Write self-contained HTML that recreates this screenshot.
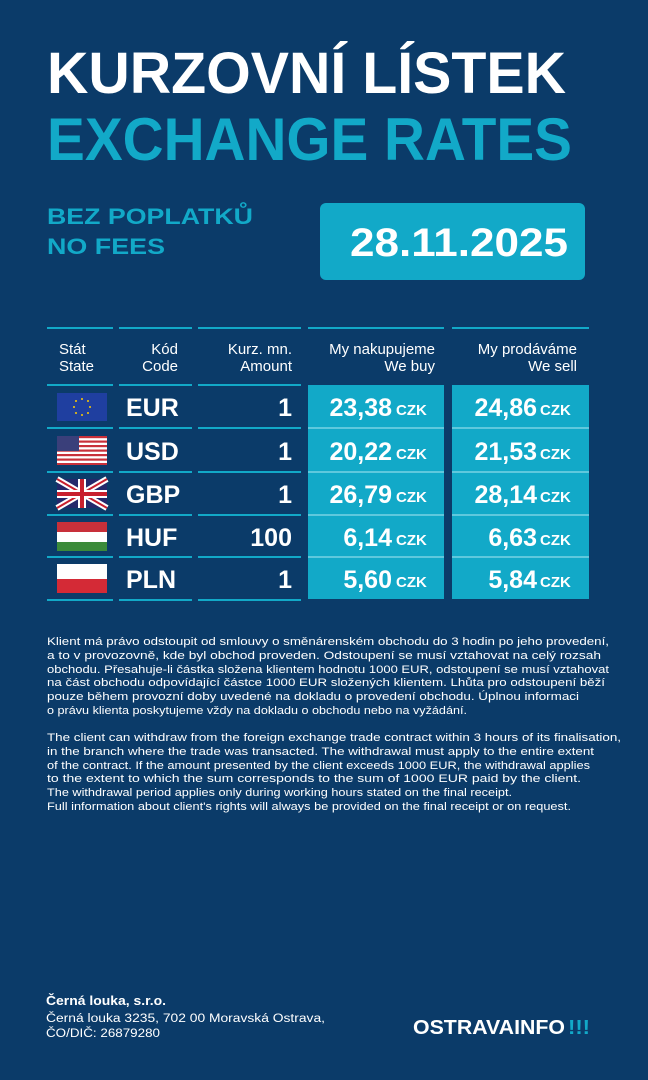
<!DOCTYPE html>
<html><head><meta charset="utf-8"><style>
html,body{margin:0;padding:0;background:#0b3b69;}
svg{display:block}
text{font-family:"Liberation Sans",sans-serif;}
</style></head><body>
<svg width="648" height="1080" viewBox="0 0 648 1080" xmlns="http://www.w3.org/2000/svg">
<rect width="648" height="1080" fill="#0b3b69"/>
<text x="47" y="93" font-size="58" font-weight="bold" fill="#fff" textLength="519" lengthAdjust="spacingAndGlyphs">KURZOVNÍ LÍSTEK</text>
<text x="47" y="160" font-size="60" font-weight="bold" fill="#12a9c8" textLength="525" lengthAdjust="spacingAndGlyphs">EXCHANGE RATES</text>
<text x="47" y="224" font-size="22" font-weight="bold" fill="#12a9c8" textLength="206" lengthAdjust="spacingAndGlyphs">BEZ POPLATKŮ</text>
<text x="47" y="254" font-size="22" font-weight="bold" fill="#12a9c8" textLength="118" lengthAdjust="spacingAndGlyphs">NO FEES</text>
<rect x="320" y="203" width="265" height="77" rx="6" fill="#12a9c8"/>
<text x="350" y="256" font-size="40" font-weight="bold" fill="#fff" textLength="218" lengthAdjust="spacingAndGlyphs">28.11.2025</text>

<g stroke="#12a9c8" stroke-width="2">
<line x1="47" y1="328" x2="113" y2="328"/><line x1="119" y1="328" x2="192" y2="328"/><line x1="198" y1="328" x2="301" y2="328"/><line x1="308" y1="328" x2="444" y2="328"/><line x1="452" y1="328" x2="589" y2="328"/>
</g>
<rect x="308" y="385" width="136" height="214" fill="#12a9c8"/>
<rect x="452" y="385" width="137" height="214" fill="#12a9c8"/>
<g stroke="#12a9c8" stroke-width="2">
<line x1="47" y1="385" x2="113" y2="385"/><line x1="119" y1="385" x2="192" y2="385"/><line x1="198" y1="385" x2="301" y2="385"/>
<line x1="47" y1="428" x2="113" y2="428"/><line x1="119" y1="428" x2="192" y2="428"/><line x1="198" y1="428" x2="301" y2="428"/>
<line x1="47" y1="472" x2="113" y2="472"/><line x1="119" y1="472" x2="192" y2="472"/><line x1="198" y1="472" x2="301" y2="472"/>
<line x1="47" y1="515" x2="113" y2="515"/><line x1="119" y1="515" x2="192" y2="515"/><line x1="198" y1="515" x2="301" y2="515"/>
<line x1="47" y1="557" x2="113" y2="557"/><line x1="119" y1="557" x2="192" y2="557"/><line x1="198" y1="557" x2="301" y2="557"/>
<line x1="47" y1="600" x2="113" y2="600"/><line x1="119" y1="600" x2="192" y2="600"/><line x1="198" y1="600" x2="301" y2="600"/>
</g>
<g stroke="#5fc8dd" stroke-width="2">
<line x1="308" y1="428" x2="444" y2="428"/><line x1="452" y1="428" x2="589" y2="428"/>
<line x1="308" y1="472" x2="444" y2="472"/><line x1="452" y1="472" x2="589" y2="472"/>
<line x1="308" y1="515" x2="444" y2="515"/><line x1="452" y1="515" x2="589" y2="515"/>
<line x1="308" y1="557" x2="444" y2="557"/><line x1="452" y1="557" x2="589" y2="557"/>
</g>
<g fill="#fff" font-size="15">
<text x="59" y="354">Stát</text><text x="59" y="371">State</text>
<text x="178" y="354" text-anchor="end">Kód</text><text x="178" y="371" text-anchor="end">Code</text>
<text x="292" y="354" text-anchor="end">Kurz. mn.</text><text x="292" y="371" text-anchor="end">Amount</text>
<text x="435" y="354" text-anchor="end">My nakupujeme</text><text x="435" y="371" text-anchor="end">We buy</text>
<text x="577" y="354" text-anchor="end">My prodáváme</text><text x="577" y="371" text-anchor="end">We sell</text>
</g>
<!-- flags -->
<rect x="57" y="393" width="50" height="28" fill="#1f3fa0"/>
<g fill="#ffcc00"><circle cx="82" cy="399" r="1"/><circle cx="88" cy="401" r="1"/><circle cx="90" cy="407" r="1"/><circle cx="88" cy="413" r="1"/><circle cx="82" cy="415" r="1"/><circle cx="76" cy="413" r="1"/><circle cx="74" cy="407" r="1"/><circle cx="76" cy="401" r="1"/></g>
<g>
<rect x="57" y="436" width="50" height="29" fill="#fff"/>
<g fill="#c8303a"><rect x="57" y="436" width="50" height="2.2"/><rect x="57" y="440.5" width="50" height="2.2"/><rect x="57" y="445" width="50" height="2.2"/><rect x="57" y="449.5" width="50" height="2.2"/><rect x="57" y="454" width="50" height="2.2"/><rect x="57" y="458.5" width="50" height="2.2"/><rect x="57" y="463" width="50" height="2"/></g>
<rect x="57" y="436" width="22" height="15" fill="#3a3f7a"/>
</g>
<g>
<rect x="57" y="479" width="50" height="29" fill="#24296b"/>
<path d="M57 479L107 508M107 479L57 508" stroke="#fff" stroke-width="6"/>
<path d="M57 479L107 508M107 479L57 508" stroke="#c8202e" stroke-width="2"/>
<rect x="78" y="479" width="8" height="29" fill="#fff"/><rect x="57" y="490" width="50" height="8" fill="#fff"/>
<rect x="80" y="479" width="4" height="29" fill="#c8202e"/><rect x="57" y="492" width="50" height="4" fill="#c8202e"/>
</g>
<rect x="57" y="522" width="50" height="10" fill="#c8303a"/><rect x="57" y="532" width="50" height="10" fill="#fff"/><rect x="57" y="542" width="50" height="9" fill="#3b8a3a"/>
<rect x="57" y="564" width="50" height="15" fill="#fff"/><rect x="57" y="579" width="50" height="14" fill="#d42a36"/>
<g fill="#fff" font-weight="bold" font-size="25">
<text x="126" y="416">EUR</text><text x="126" y="460">USD</text><text x="126" y="503">GBP</text><text x="126" y="546">HUF</text><text x="126" y="588">PLN</text>
<text x="292" y="416" text-anchor="end">1</text><text x="292" y="460" text-anchor="end">1</text><text x="292" y="503" text-anchor="end">1</text><text x="292" y="546" text-anchor="end">100</text><text x="292" y="588" text-anchor="end">1</text>
<text x="392" y="416" text-anchor="end">23,38</text><text x="392" y="460" text-anchor="end">20,22</text><text x="392" y="503" text-anchor="end">26,79</text><text x="392" y="546" text-anchor="end">6,14</text><text x="392" y="588" text-anchor="end">5,60</text>
<text x="537" y="416" text-anchor="end">24,86</text><text x="537" y="460" text-anchor="end">21,53</text><text x="537" y="503" text-anchor="end">28,14</text><text x="537" y="546" text-anchor="end">6,63</text><text x="537" y="588" text-anchor="end">5,84</text>
</g>
<g fill="#fff" font-weight="bold" font-size="15">
<text x="396" y="415">CZK</text><text x="396" y="459">CZK</text><text x="396" y="502">CZK</text><text x="396" y="545">CZK</text><text x="396" y="587">CZK</text>
<text x="540" y="415">CZK</text><text x="540" y="459">CZK</text><text x="540" y="502">CZK</text><text x="540" y="545">CZK</text><text x="540" y="587">CZK</text>
</g>
<g fill="#fff" font-size="11">
<text x="47" y="645" textLength="562" lengthAdjust="spacingAndGlyphs">Klient má právo odstoupit od smlouvy o směnárenském obchodu do 3 hodin po jeho provedení,</text>
<text x="47" y="659" textLength="554" lengthAdjust="spacingAndGlyphs">a to v provozovně, kde byl obchod proveden. Odstoupení se musí vztahovat na celý rozsah</text>
<text x="47" y="673" textLength="562" lengthAdjust="spacingAndGlyphs">obchodu. Přesahuje-li částka složena klientem hodnotu 1000 EUR, odstoupení se musí vztahovat</text>
<text x="47" y="686" textLength="558" lengthAdjust="spacingAndGlyphs">na část obchodu odpovídající částce 1000 EUR složených klientem. Lhůta pro odstoupení běží</text>
<text x="47" y="700" textLength="532" lengthAdjust="spacingAndGlyphs">pouze během provozní doby uvedené na dokladu o provedení obchodu. Úplnou informaci</text>
<text x="47" y="714" textLength="420" lengthAdjust="spacingAndGlyphs">o právu klienta poskytujeme vždy na dokladu o obchodu nebo na vyžádání.</text>
<text x="47" y="741" textLength="574" lengthAdjust="spacingAndGlyphs">The client can withdraw from the foreign exchange trade contract within 3 hours of its finalisation,</text>
<text x="47" y="755" textLength="547" lengthAdjust="spacingAndGlyphs">in the branch where the trade was transacted. The withdrawal must apply to the entire extent</text>
<text x="47" y="769" textLength="543" lengthAdjust="spacingAndGlyphs">of the contract. If the amount presented by the client exceeds 1000 EUR, the withdrawal applies</text>
<text x="47" y="782" textLength="534" lengthAdjust="spacingAndGlyphs">to the extent to which the sum corresponds to the sum of 1000 EUR paid by the client.</text>
<text x="47" y="796" textLength="465" lengthAdjust="spacingAndGlyphs">The withdrawal period applies only during working hours stated on the final receipt.</text>
<text x="47" y="810" textLength="524" lengthAdjust="spacingAndGlyphs">Full information about client's rights will always be provided on the final receipt or on request.</text>
</g>
<g fill="#fff" font-size="11.5">
<text x="46" y="1005" font-weight="bold" font-size="12.5" textLength="120" lengthAdjust="spacingAndGlyphs">Černá louka, s.r.o.</text>
<text x="46" y="1022" textLength="279" lengthAdjust="spacingAndGlyphs">Černá louka 3235, 702 00 Moravská Ostrava,</text>
<text x="46" y="1037" textLength="114" lengthAdjust="spacingAndGlyphs">ČO/DIČ: 26879280</text>
</g>
<text x="413" y="1034" font-size="20" font-weight="bold" fill="#fff" textLength="152" lengthAdjust="spacingAndGlyphs">OSTRAVAINFO</text>
<text x="568" y="1034" font-size="20" font-weight="bold" fill="#12a9c8" textLength="22" lengthAdjust="spacingAndGlyphs">!!!</text>
</svg>
</body></html>
